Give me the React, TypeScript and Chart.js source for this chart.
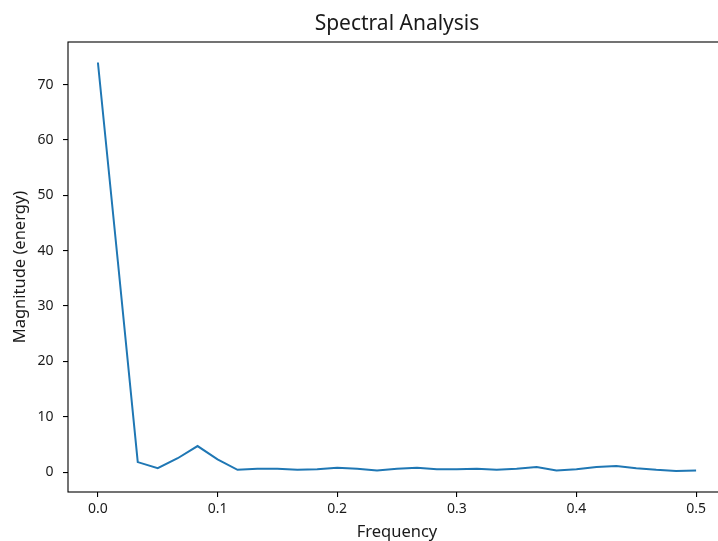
import React, { useEffect, useRef } from "react";
import { Chart, registerables } from "chart.js";

Chart.register(...registerables);

const frequencies = [
  0, 0.0167, 0.0333, 0.05, 0.0667, 0.0833, 0.1, 0.1167, 0.1333, 0.15, 0.1667,
  0.1833, 0.2, 0.2167, 0.2333, 0.25, 0.2667, 0.2833, 0.3, 0.3167, 0.3333,
  0.35, 0.3667, 0.3833, 0.4, 0.4167, 0.4333, 0.45, 0.4667, 0.4833, 0.5,
];
const magnitudes = [
  74, 38, 1.8, 0.7, 2.5, 4.7, 2.3, 0.4, 0.6, 0.6, 0.4, 0.5, 0.8, 0.6, 0.3,
  0.6, 0.8, 0.5, 0.5, 0.6, 0.4, 0.6, 0.9, 0.3, 0.5, 0.9, 1.1, 0.7, 0.4, 0.2,
  0.3,
];
const xTicks = [0, 0.1, 0.2, 0.3, 0.4, 0.5];
const yTicks = [0, 10, 20, 30, 40, 50, 60, 70];

const FONT = "'Noto Sans', 'Open Sans', sans-serif";
const TEXT = "#1a1a1a";

const frame = {
  id: "frame",
  afterDraw(chart: any) {
    const { ctx, chartArea } = chart;
    ctx.save();
    ctx.strokeStyle = "#000";
    ctx.lineWidth = 1.1;
    ctx.strokeRect(chartArea.left, chartArea.top, chartArea.right - chartArea.left, chartArea.bottom - chartArea.top);
    ctx.restore();
  },
};

export default function App() {
  const ref = useRef<HTMLCanvasElement>(null);
  useEffect(() => {
    if (!ref.current) return;
    const chart = new Chart(ref.current, {
      type: "line",
      data: {
        datasets: [
          {
            data: frequencies.map((f, i) => ({ x: f, y: magnitudes[i] })),
            borderColor: "#1f77b4",
            borderWidth: 2,
            pointRadius: 0,
            tension: 0,
            fill: false,
          },
        ],
      },
      plugins: [frame],
      options: {
        animation: false,
        responsive: false,
        devicePixelRatio: 1,
        layout: { padding: { left: 0, right: 14, top: 0, bottom: 0 } },
        plugins: {
          legend: { display: false },
          tooltip: { enabled: false },
          title: {
            display: true,
            text: "Spectral Analysis",
            fullSize: false,
            color: TEXT,
            font: { family: FONT, size: 21, weight: "normal", lineHeight: 1.2 },
            padding: { top: 11.6, bottom: 5.2 },
          },
        },
        scales: {
          x: {
            type: "linear",
            min: -0.025,
            max: 0.525,
            afterBuildTicks: (s: any) => {
              s.ticks = xTicks.map((v) => ({ value: v }));
            },
            afterFit: (s: any) => {
              s.height = 49;
            },
            grid: {
              drawOnChartArea: false,
              drawTicks: true,
              tickLength: 5,
              color: "#000",
              lineWidth: 1.1,
            },
            border: { display: false },
            ticks: {
              color: TEXT,
              font: { family: FONT, size: 14 },
              padding: 4,
              maxRotation: 0,
              callback: (v: any) => Number(v).toFixed(1),
            },
            title: {
              display: true,
              text: "Frequency",
              color: TEXT,
              font: { family: FONT, size: 16.5, lineHeight: 1 },
              padding: { top: 0, bottom: 0 },
            },
          },
          y: {
            type: "linear",
            min: -3.6,
            max: 77.7,
            afterBuildTicks: (s: any) => {
              s.ticks = yTicks.map((v) => ({ value: v }));
            },
            afterFit: (s: any) => {
              s.width = 68;
            },
            grid: {
              drawOnChartArea: false,
              drawTicks: true,
              tickLength: 5,
              color: "#000",
              lineWidth: 1.1,
            },
            border: { display: false },
            ticks: {
              color: TEXT,
              font: { family: FONT, size: 14 },
              padding: 9.5,
              callback: (v: any) => String(v),
            },
            title: {
              display: true,
              text: "Magnitude (energy)",
              color: TEXT,
              font: { family: FONT, size: 16.5, lineHeight: 1.2 },
              padding: { top: 10.5, bottom: 0 },
            },
          },
        },
      } as any,
    });
    return () => chart.destroy();
  }, []);
  return (
    <div style={{ position: "absolute", left: 0, top: 0, width: 718, height: 541, overflow: "hidden", background: "#fff" }}>
      <canvas ref={ref} width={740} height={541} style={{ width: 740, height: 541, display: "block" }} />
    </div>
  );
}
